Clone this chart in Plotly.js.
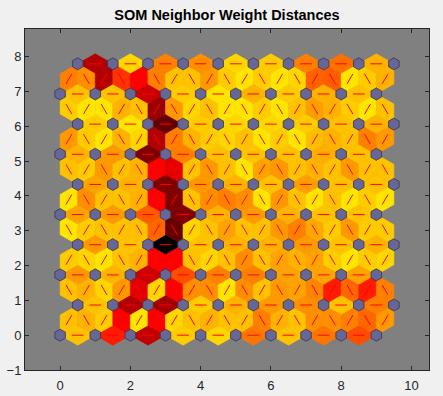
<!DOCTYPE html>
<html><head><meta charset="utf-8">
<script src="https://cdn.plot.ly/plotly-3.0.1.min.js"></script>
<style>html,body{margin:0;padding:0;background:#f0f0f0;}#chart{width:443px;height:396px;}</style>
</head><body><div id="chart"></div>
<script>
// SOM 10x10 hexagonal grid, normalized neighbor distances (0 = smallest, 1 = largest)
const gridCols = 10;
const gridRows = 10;
// horizontal neighbor distances, row j (bottom to top), edge i (left to right)
const hDist = [
  [0.12, 0.45, 0.62, 0.10, 0.08, 0.27, 0.12, 0.27, 0.35],
  [0.12, 0.65, 0.68, 0.10, 0.15, 0.20, 0.22, 0.12, 0.25],
  [0.20, 0.15, 0.60, 0.35, 0.25, 0.25, 0.18, 0.18, 0.18],
  [0.20, 0.12, 1.00, 0.12, 0.15, 0.15, 0.20, 0.12, 0.15],
  [0.18, 0.20, 0.32, 0.75, 0.15, 0.20, 0.15, 0.12, 0.12],
  [0.18, 0.15, 0.75, 0.20, 0.15, 0.12, 0.19, 0.12, 0.12],
  [0.15, 0.20, 0.75, 0.25, 0.12, 0.12, 0.12, 0.16, 0.12],
  [0.10, 0.05, 0.80, 0.10, 0.08, 0.08, 0.10, 0.12, 0.15],
  [0.12, 0.12, 0.60, 0.10, 0.05, 0.15, 0.10, 0.15, 0.12],
  [0.65, 0.08, 0.25, 0.22, 0.08, 0.10, 0.25, 0.28, 0.15]
];
// diagonal neighbor distances between row j and row j+1, edge k (left to right)
const dDist = [
  [0.12, 0.15, 0.10, 0.50, 0.05, 0.50, 0.08, 0.12, 0.15, 0.12, 0.12, 0.25, 0.15, 0.12, 0.22, 0.22, 0.25, 0.30, 0.20],
  [0.12, 0.15, 0.08, 0.20, 0.55, 0.08, 0.50, 0.22, 0.22, 0.05, 0.22, 0.12, 0.20, 0.18, 0.24, 0.45, 0.30, 0.45, 0.25],
  [0.10, 0.08, 0.05, 0.12, 0.15, 0.50, 0.50, 0.12, 0.08, 0.12, 0.22, 0.12, 0.18, 0.15, 0.18, 0.10, 0.05, 0.10, 0.08],
  [0.05, 0.10, 0.12, 0.12, 0.12, 0.30, 0.80, 0.08, 0.12, 0.18, 0.12, 0.12, 0.20, 0.25, 0.17, 0.10, 0.20, 0.10, 0.10],
  [0.05, 0.22, 0.12, 0.12, 0.15, 0.50, 0.75, 0.12, 0.22, 0.25, 0.22, 0.05, 0.20, 0.12, 0.05, 0.12, 0.05, 0.10, 0.05],
  [0.12, 0.10, 0.20, 0.12, 0.15, 0.50, 0.55, 0.12, 0.20, 0.12, 0.05, 0.18, 0.20, 0.12, 0.15, 0.12, 0.20, 0.12, 0.12],
  [0.20, 0.10, 0.05, 0.15, 0.08, 0.65, 0.25, 0.15, 0.10, 0.08, 0.12, 0.05, 0.10, 0.05, 0.13, 0.15, 0.12, 0.25, 0.20],
  [0.10, 0.05, 0.05, 0.15, 0.12, 0.70, 0.20, 0.08, 0.12, 0.05, 0.05, 0.10, 0.05, 0.12, 0.19, 0.15, 0.10, 0.05, 0.12],
  [0.25, 0.22, 0.65, 0.40, 0.50, 0.25, 0.12, 0.12, 0.20, 0.10, 0.05, 0.10, 0.05, 0.08, 0.31, 0.32, 0.05, 0.10, 0.15]
];
const titleText = 'SOM Neighbor Weight Distances';
const xTicks = [0, 2, 4, 6, 8, 10];
const yTicks = [-1, 0, 1, 2, 3, 4, 5, 6, 7, 8];

const rowH = Math.sqrt(0.75);
const zz = Math.sqrt(0.75) / 3;
function pos(i, j) { return [i + (j % 2 ? 0.5 : 0), j * rowH]; }
function colorOf(d) {
  const lev = 1 - d;
  const r = Math.min(lev * 2, 1), g = Math.max(lev * 2 - 1, 0);
  return 'rgb(' + Math.round(r * 255) + ',' + Math.round(g * 255) + ',0)';
}
const edges = [];
for (let j = 0; j < gridRows; j++)
  for (let i = 0; i < gridCols - 1; i++)
    edges.push({a: pos(i, j), b: pos(i + 1, j), d: hDist[j][i]});
for (let j = 0; j < gridRows - 1; j++)
  for (let k = 0; k < 2 * gridCols - 1; k++) {
    let lo, up;
    if (j % 2 === 0) {
      if (k % 2 === 0) { lo = pos(k / 2, j); up = pos(k / 2, j + 1); }
      else { lo = pos((k + 1) / 2, j); up = pos((k - 1) / 2, j + 1); }
    } else {
      if (k % 2 === 0) { lo = pos(k / 2, j); up = pos(k / 2, j + 1); }
      else { lo = pos((k - 1) / 2, j); up = pos((k + 1) / 2, j + 1); }
    }
    edges.push({a: lo, b: up, d: dDist[j][k]});
  }

const traces = [];
const lx = [], ly = [];
edges.forEach(e => {
  const [ax, ay] = e.a, [bx, by] = e.b;
  const dx = bx - ax, dy = by - ay, L = Math.hypot(dx, dy);
  const nx = -dy / L, ny = dx / L;
  const mx = (ax + bx) / 2, my = (ay + by) / 2;
  const c = colorOf(e.d);
  traces.push({
    type: 'scatter', mode: 'lines', fill: 'toself', fillcolor: c,
    line: {color: c, width: 0.6},
    x: [ax, mx + nx * zz, bx, mx - nx * zz, ax],
    y: [ay, my + ny * zz, by, my - ny * zz, ay],
    hoverinfo: 'skip', showlegend: false
  });
  lx.push((2 * ax + bx) / 3, (ax + 2 * bx) / 3, null);
  ly.push((2 * ay + by) / 3, (ay + 2 * by) / 3, null);
});
traces.push({type: 'scatter', mode: 'lines', x: lx, y: ly,
  line: {color: 'rgb(255,0,0)', width: 1}, hoverinfo: 'skip', showlegend: false});

const sx = [-1, 0, 1, 1, 0, -1].map(v => v * 0.5 * 0.3);
const sy = [1, 2, 1, -1, -2, -1].map(v => v * zz * 0.3);
for (let j = 0; j < gridRows; j++)
  for (let i = 0; i < gridCols; i++) {
    const [px, py] = pos(i, j);
    traces.push({
      type: 'scatter', mode: 'lines', fill: 'toself', fillcolor: 'rgb(102,102,153)',
      line: {color: 'rgb(55,55,70)', width: 0.8},
      x: sx.map(v => v + px).concat([sx[0] + px]),
      y: sy.map(v => v + py).concat([sy[0] + py]),
      hoverinfo: 'skip', showlegend: false
    });
  }

const tickFont = {family: 'Liberation Sans, Arial, sans-serif', size: 13, color: '#262626'};
const layout = {
  width: 443, height: 396,
  paper_bgcolor: '#f0f0f0', plot_bgcolor: 'rgb(128,128,128)',
  margin: {l: 25, r: 14, t: 29, b: 26},
  title: {text: titleText, x: 0.5, xref: 'paper', y: 1 - 15 / 396, yref: 'container', yanchor: 'middle',
    font: {family: 'Liberation Sans, Arial, sans-serif', size: 14.5, weight: 700, color: '#000'}},
  xaxis: {range: [-1, 10.5], tickvals: xTicks, ticks: 'inside', ticklen: 4, tickcolor: '#262626',
    showline: true, linecolor: '#262626', linewidth: 1, mirror: 'ticks', showgrid: false, zeroline: false,
    tickfont: tickFont, ticklabelstandoff: 3, fixedrange: true},
  yaxis: {range: [-1, 9 * rowH + 1], tickvals: yTicks, ticks: 'inside', ticklen: 4, tickcolor: '#262626',
    showline: true, linecolor: '#262626', linewidth: 1, mirror: 'ticks', showgrid: false, zeroline: false,
    tickfont: tickFont, fixedrange: true},
  hovermode: false, showlegend: false
};
Plotly.newPlot('chart', traces, layout, {displayModeBar: false, staticPlot: true});
</script></body></html>
